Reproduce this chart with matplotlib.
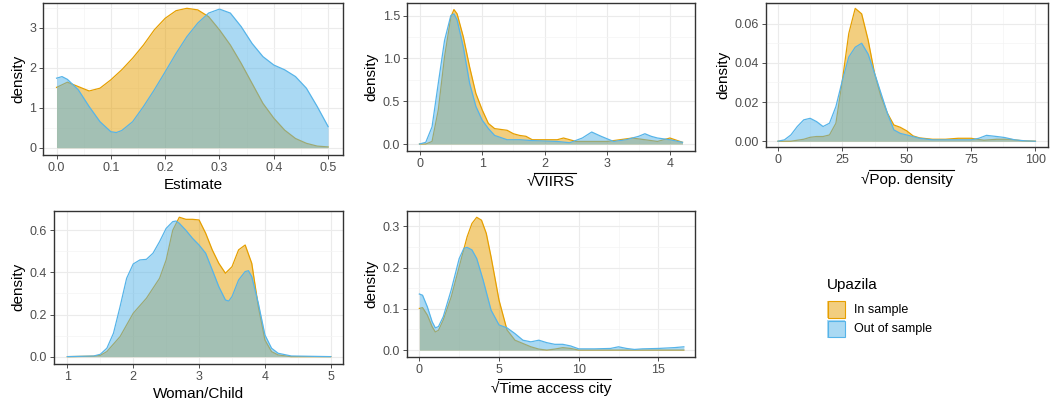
import numpy as np
import matplotlib
matplotlib.use("Agg")
from matplotlib import pyplot as plt
from matplotlib.patches import Rectangle
from matplotlib.lines import Line2D
from matplotlib.ticker import MultipleLocator, FormatStrFormatter

plt.rcParams['font.family'] = ['Liberation Sans', 'DejaVu Sans']

# density curves (x grid, in sample, out of sample)
est_x_in = [0, .02, .04, .06, .08, .1, .12, .14, .16, .18, .2, .22, .24, .26, .28, .3,
            .32, .34, .36, .38, .4, .42, .44, .46, .48, .5]
est_in = [1.51, 1.64, 1.53, 1.42, 1.49, 1.70, 1.95, 2.24, 2.57, 2.95, 3.24, 3.43, 3.49,
          3.45, 3.28, 2.95, 2.57, 2.11, 1.61, 1.11, 0.74, 0.44, 0.23, 0.11, 0.04, 0.02]
est_x_out = [0, .01, .02, .04, .06, .08, .1, .11, .12, .14, .16, .18, .2, .22, .24, .26,
             .28, .3, .32, .34, .36, .38, .4, .42, .44, .46, .48, .5]
est_out = [1.74, 1.78, 1.71, 1.45, 1.03, 0.65, 0.40, 0.38, 0.43, 0.65, 1.03, 1.45, 1.90,
           2.36, 2.78, 3.12, 3.37, 3.47, 3.37, 3.03, 2.61, 2.28, 2.07, 1.95, 1.78, 1.49,
           1.03, 0.53]

viirs_x_in = [0, .1, .2, .3, .4, .5, .55, .6, .7, .8, .9, 1.0, 1.1, 1.2, 1.4, 1.5, 1.6,
              1.7, 1.8, 2.0, 2.2, 2.3, 2.5, 2.8, 3.0, 3.2, 3.4, 3.6, 3.8, 4.0, 4.2]
viirs_in = [0, 0, .03, .40, 1.02, 1.48, 1.57, 1.52, 1.25, .90, .59, .40, .24, .18, .16,
            .12, .10, .09, .05, .05, .05, .07, .03, .03, .03, .05, .07, .05, .03, .07, .02]
viirs_x_out = [0, .1, .2, .3, .4, .5, .55, .6, .7, .8, .9, 1.0, 1.1, 1.2, 1.4, 1.6, 1.8,
               2.0, 2.2, 2.4, 2.6, 2.75, 2.9, 3.1, 3.3, 3.5, 3.6, 3.7, 3.8, 4.0, 4.2]
viirs_out = [0, .02, .20, .71, 1.21, 1.50, 1.52, 1.45, 1.13, .71, .44, .28, .18, .10,
             .05, .05, .04, .035, .03, .015, .07, .14, .09, .03, .05, .09, .12, .09, .07,
             .05, .02]

pop_x_in = [0, 5, 10, 12.5, 15, 17.5, 20, 22.5, 25, 27.5, 30, 32.5, 35, 37.5, 40, 42.5,
            45, 47.5, 50, 52.5, 55, 60, 65, 70, 75, 80, 85, 90, 95, 100]
pop_in = [0, 0, .001, .002, .0024, .0024, .0032, .0092, .031, .055, .0678, .065, .0517,
          .0347, .0228, .0143, .0083, .0071, .0053, .0027, .0017, .001, .001, .0015,
          .0015, .0005, .001, .001, .0002, 0]
pop_x_out = [0, 2.5, 5, 7.5, 10, 12.5, 15, 17.5, 20, 22.5, 25, 27.5, 30, 32.5, 35, 37.5,
             40, 42.5, 45, 47.5, 50, 55, 60, 65, 70, 75, 78, 81, 85, 88, 92, 96, 100]
pop_out = [0, .0007, .0032, .0075, .0109, .0117, .010, .0075, .0092, .0177, .031, .043,
           .048, .050, .0445, .0347, .0245, .0143, .0058, .004, .0032, .0015, .0007,
           .0007, .0007, .0007, .0015, .003, .0024, .0019, .0007, .0002, 0]

wc_x_in = [1, 1.4, 1.5, 1.6, 1.8, 2.0, 2.2, 2.4, 2.5, 2.6, 2.7, 2.8, 2.9, 3.0, 3.1, 3.2,
           3.3, 3.4, 3.5, 3.6, 3.7, 3.8, 3.9, 4.0, 4.1, 4.2, 4.4, 5]
wc_in = [0, .002, .006, .024, .095, .206, .277, .372, .459, .60, .662, .652, .652, .649,
         .586, .507, .443, .396, .427, .507, .530, .443, .237, .079, .024, .008, 0, 0]
wc_x_out = [1, 1.4, 1.5, 1.6, 1.7, 1.8, 1.9, 2.0, 2.1, 2.2, 2.3, 2.4, 2.5, 2.6, 2.65, 2.7,
            2.8, 2.9, 3.0, 3.1, 3.2, 3.3, 3.4, 3.45, 3.5, 3.6, 3.7, 3.75, 3.8, 3.9, 4.0,
            4.1, 4.2, 4.4, 5]
wc_out = [0, .003, .011, .04, .111, .237, .372, .44, .459, .462, .491, .546, .609, .641,
          .644, .633, .60, .562, .530, .491, .412, .332, .269, .264, .285, .364, .404,
          .408, .38, .253, .103, .04, .016, .003, 0]

tac_x_in = [0, .2, .5, .8, 1.0, 1.2, 1.5, 2.0, 2.5, 3.0, 3.3, 3.6, 3.9, 4.2, 4.5, 5.0, 5.5,
            6.0, 6.5, 7.0, 7.5, 8.0, 8.5, 9.0, 9.5, 10.0, 12, 16.6]
tac_in = [.101, .103, .085, .057, .044, .048, .073, .129, .202, .275, .307, .322, .315,
          .283, .226, .121, .049, .024, .016, .008, .0024, 0, .0024, .006, .004, 0, 0, 0]
tac_x_out = [0, .2, .5, .8, 1.0, 1.2, 1.5, 2.0, 2.5, 2.8, 3.0, 3.3, 3.6, 4.0, 4.5, 5.0, 5.5,
             6.0, 6.5, 7.0, 7.5, 8.0, 8.5, 9.0, 9.5, 10.0, 11, 12, 12.5, 13, 13.5, 14, 15,
             16, 16.6]
tac_out = [.136, .133, .105, .069, .054, .057, .081, .146, .222, .247, .249, .243, .222,
           .170, .097, .061, .054, .040, .024, .020, .024, .018, .014, .014, .010, .003,
           .003, .004, .008, .004, .0016, .003, .004, .006, .008]

groups = ['In sample', 'Out of sample']
in_col = '#E69F00'
out_col = '#56B4E9'

fig = plt.figure(figsize=(10.51, 4.07), dpi=100)
W, H = 1051, 407


def add_ax(l, t, r, b):
    return fig.add_axes([l / W, 1 - b / H, (r - l) / W, (b - t) / H])


panels = [
    # box px, data, xlabel, sqrt?, xlim, ylim, xmaj, xmin, ymaj, ymin, xfmt, yfmt
    ((43, 2.7, 343.3, 154.7), (est_x_in, est_in, est_x_out, est_out), 'Estimate', False,
     (-0.025, 0.528), (-0.175, 3.63), 0.1, 0.05, 1, 0.5, '%.1f', '%d'),
    ((407, 2.7, 695, 150.7), (viirs_x_in, viirs_in, viirs_x_out, viirs_out),
     'VIIRS', True, (-0.2, 4.4), (-0.078, 1.65), 1, 0.5, 0.5, 0.25, '%d', '%.1f'),
    ((766, 2.7, 1048.3, 147.3), (pop_x_in, pop_in, pop_x_out, pop_out),
     'Pop. density', True, (-4.66, 105), (-0.0031, 0.0707), 25, 12.5,
     0.02, 0.01, '%d', '%.2f'),
    ((54, 210.7, 343.3, 364), (wc_x_in, wc_in, wc_x_out, wc_out), 'Woman/Child', False,
     (0.797, 5.19), (-0.035, 0.693), 1, 0.5, 0.2, 0.1, '%d', '%.1f'),
    ((406.7, 210.7, 695, 356.7), (tac_x_in, tac_in, tac_x_out, tac_out),
     'Time access city', True, (-0.795, 17.3), (-0.016, 0.338), 5, 2.5,
     0.1, 0.05, '%d', '%.1f'),
]

sqrt_labels = []
for (box, (xi, yi, xo, yo), xlabel, is_sqrt, xlim, ylim, xmaj, xmin, ymaj, ymin,
     xfmt, yfmt) in panels:
    ax = add_ax(*box)
    ax.fill_between(xi, 0, yi, color=in_col, alpha=0.5, lw=0, zorder=2)
    ax.plot(xi, yi, color=in_col, lw=0.9, zorder=2)
    ax.fill_between(xo, 0, yo, color=out_col, alpha=0.5, lw=0, zorder=3)
    ax.plot(xo, yo, color=out_col, lw=0.9, zorder=3)
    ax.set_xlim(*xlim)
    ax.set_ylim(*ylim)
    ax.xaxis.set_major_locator(MultipleLocator(xmaj))
    ax.xaxis.set_minor_locator(MultipleLocator(xmin))
    ax.yaxis.set_major_locator(MultipleLocator(ymaj))
    ax.yaxis.set_minor_locator(MultipleLocator(ymin))
    ax.xaxis.set_major_formatter(FormatStrFormatter(xfmt))
    ax.yaxis.set_major_formatter(FormatStrFormatter(yfmt))
    ax.grid(which='major', color='#EBEBEB', lw=0.8, zorder=0)
    ax.grid(which='minor', color='#F4F4F4', lw=0.5, zorder=0)
    ax.set_axisbelow(True)
    ax.tick_params(which='major', length=3, width=0.6, color='#333333',
                   labelsize=9, labelcolor='#4D4D4D', pad=2)
    ax.tick_params(which='minor', length=0)
    for sp in ax.spines.values():
        sp.set_color('#333333')
        sp.set_linewidth(1.0)
    if is_sqrt:
        lab = ax.set_xlabel('\u221a' + xlabel, fontsize=11, labelpad=4)
        sqrt_labels.append(lab)
    else:
        ax.set_xlabel(xlabel, fontsize=11, labelpad=3)
    ax.set_ylabel('density', fontsize=11, labelpad=3)

# overline for the square-root labels
fig.canvas.draw()
rend = fig.canvas.get_renderer()
for lab in sqrt_labels:
    bb = lab.get_window_extent(rend)
    probe = fig.text(0, 0, '\u221a', fontsize=11)
    rw = probe.get_window_extent(rend).width
    probe.remove()
    y = bb.y1 + 2.2
    fig.add_artist(Line2D([(bb.x0 + rw - 1.0) / W, (bb.x1 + 0.5) / W], [y / H, y / H],
                          color='black', lw=0.8))

# legend
fig.text(827 / W, 1 - 285 / H, 'Upazila', fontsize=11, va='center', ha='left')
for i, (name, col) in enumerate(zip(groups, [in_col, out_col])):
    top = 300.7 + i * 19.3
    fig.add_artist(Rectangle((827 / W, 1 - (top + 17.6) / H), 18 / W, 17.6 / H,
                             transform=fig.transFigure, facecolor=col, alpha=0.5,
                             edgecolor='none'))
    fig.add_artist(Rectangle((827.5 / W, 1 - (top + 17.1) / H), 17 / W, 16.6 / H,
                             transform=fig.transFigure, facecolor='none',
                             edgecolor=col, lw=0.8))
    fig.text(854 / W, 1 - (top + 8.8) / H, name, fontsize=9, va='center', ha='left')

fig.savefig('out.png', dpi=100)
